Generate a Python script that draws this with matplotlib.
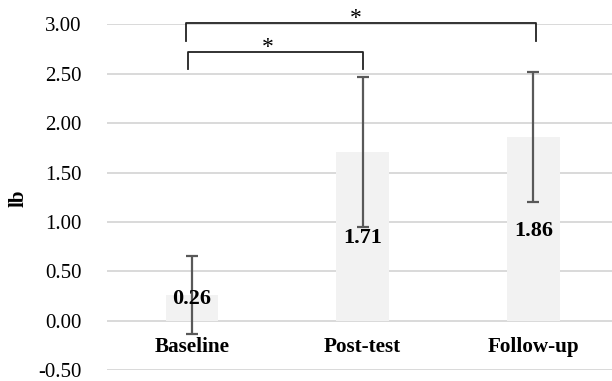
import matplotlib
matplotlib.use("Agg")
import matplotlib.pyplot as plt
import numpy as np

plt.rcParams['font.family'] = ['Liberation Serif', 'DejaVu Serif']

categories = ["Baseline", "Post-test", "Follow-up"]
means = [0.26, 1.71, 1.86]
errors = [0.39, 0.76, 0.66]
value_labels = ["0.26", "1.71", "1.86"]
yticks = [-0.50, 0.00, 0.50, 1.00, 1.50, 2.00, 2.50, 3.00]
ytick_labels = ["-0.50", "0.00", "0.50", "1.00", "1.50", "2.00", "2.50", "3.00"]

W, H = 612, 381
fig = plt.figure(figsize=(W / 100, H / 100), dpi=100)
left_px, right_px = 106.7, 618.7
top_px, bot_px = 24.3, 370.1
ax = fig.add_axes([left_px / W, 1 - bot_px / H, (right_px - left_px) / W, (bot_px - top_px) / H])

x = np.arange(len(categories))
ax.bar(x, means, width=0.31, color='#f2f2f2', zorder=2)
ax.errorbar(x, means, yerr=errors, fmt='none', ecolor='#595959', elinewidth=1.6,
            capsize=4.3, capthick=1.6, zorder=3)

# value labels (manually placed as in reference)
label_y = [0.22, 0.84, 0.91]
for xi, ly, t in zip(x, label_y, value_labels):
    ax.text(xi, ly, t, ha='center', va='center', fontsize=16, fontweight='bold', zorder=4)

ax.set_ylim(-0.5, 3.0)
ax.set_xlim(-0.5, 2.5)
ax.set_yticks(yticks)
ax.set_yticklabels(ytick_labels, fontsize=15)
ax.yaxis.grid(True, color='#d9d9d9', linewidth=1.4, zorder=0)
ax.set_axisbelow(True)
for s in ['top', 'right', 'left', 'bottom']:
    ax.spines[s].set_visible(False)
ax.set_xticks([])
for xi, c in zip(x, categories):
    ax.text(xi, -0.262, c, ha='center', va='center', fontsize=15.2, fontweight='bold')
ax.tick_params(axis='y', length=0, pad=18)

# significance brackets
def bracket(x1, x2, y, ydrop, sx, sy):
    ax.plot([x1, x1, x2, x2], [y - ydrop, y, y, y - ydrop], color='#222222', lw=1.3,
            clip_on=False, zorder=5)
    ax.text(sx, sy, '*', ha='center', va='center', fontsize=17, clip_on=False)

bracket(-0.034, 2.016, 3.01, 0.176, 0.962, 3.06)
bracket(-0.026, 0.999, 2.723, 0.175, 0.445, 2.765)

fig.text(19 / W, 1 - 198.3 / H, 'lb', rotation=90, ha='center', va='center',
         fontsize=15, fontweight='bold')

fig.savefig('out.png', dpi=100)
